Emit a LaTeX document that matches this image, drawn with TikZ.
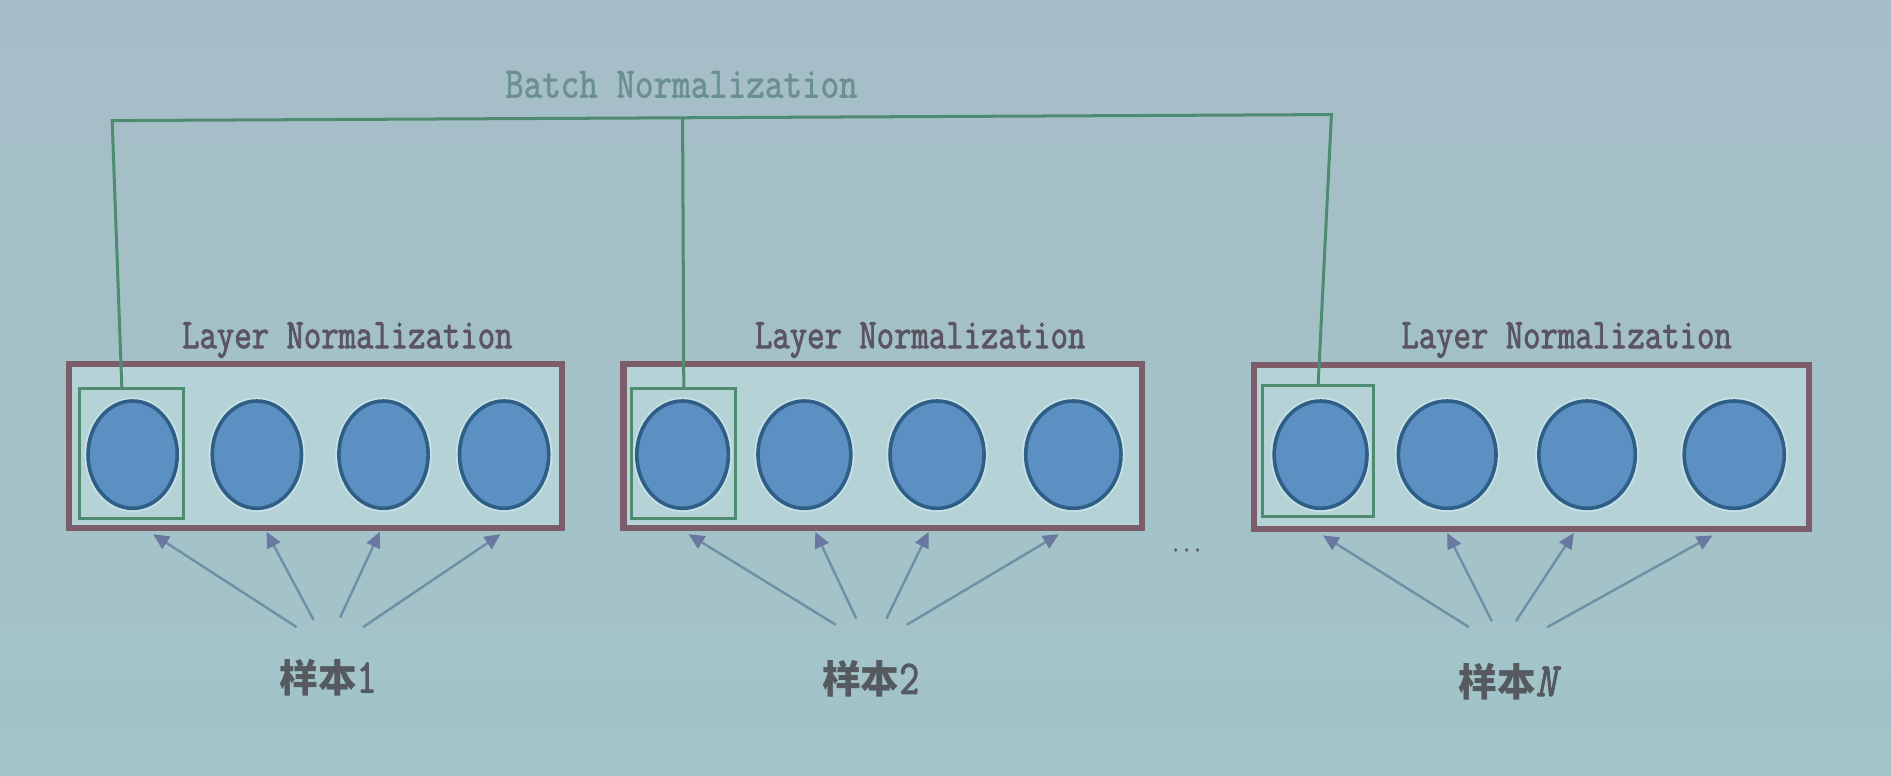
\documentclass[tikz,border=0pt]{standalone}
\usepackage{fontspec}
\usetikzlibrary{shapes.geometric,arrows.meta}
\newfontfamily\latn[FakeStretch=0.8,FakeBold=2]{Latin Modern Mono}
\newfontfamily\latnb[FakeStretch=0.83,FakeBold=1.5]{Latin Modern Mono}
\newfontfamily\cjk{Noto Sans CJK SC}
\definecolor{bgtop}{HTML}{A6BDC7}
\definecolor{bgbot}{HTML}{A2C5C8}
\definecolor{boxin}{HTML}{B5D3D7}
\definecolor{boxline}{HTML}{7C5D6A}
\definecolor{bngreen}{HTML}{4F8B70}
\definecolor{nfill}{HTML}{5D90C2}
\definecolor{nline}{HTML}{2F5F86}
\definecolor{halo}{HTML}{C6E2E6}
\definecolor{arrcol}{HTML}{6F8FA6}
\definecolor{arrhead}{HTML}{6A77A0}
\definecolor{lntext}{HTML}{5A5560}
\definecolor{bntext}{HTML}{6B918F}
\definecolor{smptext}{HTML}{555A60}
\begin{document}
\begin{tikzpicture}[x=1pt,y=-1pt,
  lnbox/.style={draw=boxline, fill=boxin, line width=5pt, minimum width=#1, minimum height=136pt, inner sep=0pt},
  neuron/.style={ellipse, draw=nline, fill=nfill, line width=3pt, minimum width=74pt, minimum height=89pt, inner sep=0pt,
    preaction={draw=halo, line width=6pt}},
  grbox/.style={draw=bngreen, line width=2.5pt, minimum width=86pt, minimum height=108pt, inner sep=0pt},
  bnline/.style={draw=bngreen, line width=2.5pt},
  arr/.style={draw=arrcol, line width=2pt, -{Triangle[length=13pt,width=12pt,color=arrhead]}},
  lntxt/.style={text=lntext, font=\latn\fontsize{35}{38}\selectfont, inner sep=0pt},
  smp/.style={text=smptext, font=\fontsize{32}{36}\selectfont, inner sep=0pt}
]
\shade[top color=bgtop, bottom color=bgbot] (0,0) rectangle (1568,643);
\useasboundingbox (0,0) rectangle (1568,643);

% layer boxes
\node[lnbox=409pt] (box1) at (261.5,370) {};
\node[lnbox=430pt] (box2) at (732,370) {};
\node[lnbox=460pt] (box3) at (1270,371) {};

% green boxes
\node[grbox] (g1) at (109,376) {};
\node[grbox] (g2) at (567,376) {};
\node[grbox, minimum width=92pt] (g3) at (1093,374) {};

% neurons
\node[neuron] (n11) at (110,377) {};
\node[neuron] (n12) at (213,377) {};
\node[neuron] (n13) at (318,377) {};
\node[neuron] (n14) at (418,377) {};
\node[neuron, minimum width=76pt] (n21) at (566,377) {};
\node[neuron, minimum width=77pt] (n22) at (667,377) {};
\node[neuron, minimum width=78pt] (n23) at (777,377) {};
\node[neuron, minimum width=79pt] (n24) at (890,377) {};
\node[neuron, minimum width=77pt] (n31) at (1095,377) {};
\node[neuron, minimum width=81pt] (n32) at (1200,377) {};
\node[neuron, minimum width=80pt] (n33) at (1316,377) {};
\node[neuron, minimum width=83pt] (n34) at (1438,377) {};

% labels
\node[lntxt] (ln1) at (288,282) {Layer Normalization};
\node[lntxt] (ln2) at (763,282) {Layer Normalization};
\node[lntxt] (ln3) at (1299,282) {Layer Normalization};
\node[text=bntext, font=\latnb\fontsize{36}{38}\selectfont, inner sep=0pt] (bn) at (565,70) {Batch Normalization};

% batch norm connectors
\coordinate (bnL) at (93,100);
\coordinate (bnR) at (1104,95);
\coordinate (bnM) at (566,98);
\draw[bnline] ([xshift=-8pt]g1.north) -- (bnL) -- (bnR) -- (g3.north);
\draw[bnline] (g2.north) -- (bnM);

% sample labels
\node[smp] (s1) at (272,562) {{\cjk\bfseries 样本}{\latn\fontsize{40}{40}\selectfont 1}};
\node[smp] (s2) at (722,563) {{\cjk\bfseries 样本}{\latn\fontsize{40}{40}\selectfont 2}};
\node[smp] (s3) at (1250,565) {{\cjk\bfseries 样本}{\latn\itshape\fontsize{40}{40}\selectfont N}};
\node[text=smptext, font=\latn\fontsize{22}{24}\selectfont, inner sep=0pt] (dots) at (984,456) {...};

% arrows sample 1
\coordinate (f11) at (246,520); \coordinate (t11) at (127,443);
\coordinate (f12) at (260,514); \coordinate (t12) at (221,441);
\coordinate (f13) at (282,512); \coordinate (t13) at (315,441);
\coordinate (f14) at (301,520); \coordinate (t14) at (415,443);
% sample 2
\coordinate (f21) at (693,518); \coordinate (t21) at (571,443);
\coordinate (f22) at (710,513); \coordinate (t22) at (676,441);
\coordinate (f23) at (735,513); \coordinate (t23) at (770,441);
\coordinate (f24) at (752,518); \coordinate (t24) at (878,443);
% sample N
\coordinate (f31) at (1218,520); \coordinate (t31) at (1097,444);
\coordinate (f32) at (1237,515); \coordinate (t32) at (1200,442);
\coordinate (f33) at (1257,515); \coordinate (t33) at (1305,442);
\coordinate (f34) at (1283,520); \coordinate (t34) at (1420,444);
\foreach \i in {1,2,3}{
  \foreach \j in {1,2,3,4}{
    \draw[arr] (f\i\j) -- (t\i\j);
  }
}
\end{tikzpicture}
\end{document}
